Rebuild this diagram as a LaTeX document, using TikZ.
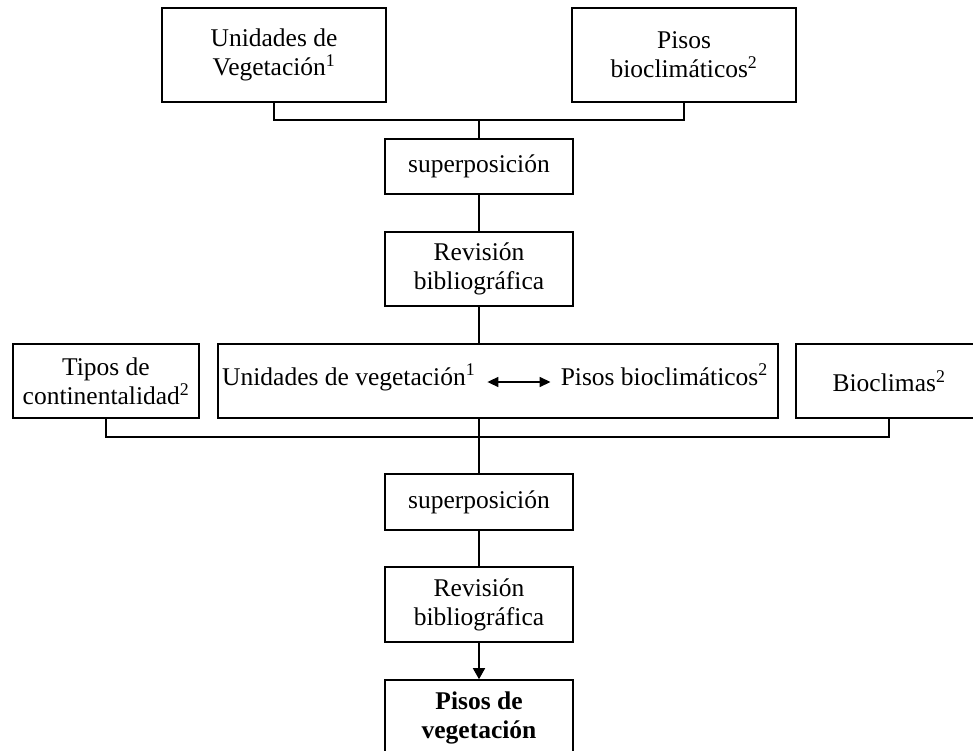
\documentclass[tikz,border=0pt]{standalone}
\usepackage{fontspec}
\setmainfont{Liberation Serif}
\usetikzlibrary{arrows.meta}
\begin{document}
\begin{tikzpicture}[x=1pt,y=-1pt,
  box/.style={draw, line width=1.6pt, inner sep=0pt, align=center,
    font=\fontsize{25.5}{29}\selectfont},
  txt/.style={inner sep=0pt, font=\fontsize{25.5}{29}\selectfont},
  lnk/.style={line width=1.5pt},
  arr/.style={line width=1.5pt, -{Triangle[length=11pt,width=12pt]}},
  dbl/.style={line width=1.5pt, {Triangle[length=11pt,width=10pt]}-{Triangle[length=11pt,width=10pt]}}]
\useasboundingbox (0,0) rectangle (973,751);
\clip (0,0) rectangle (973,751);
% top row
\node[box, minimum width=224pt, minimum height=94pt] (uv) at (274,55) {Unidades de\\Vegetación\textsuperscript{1}};
\node[box, minimum width=224pt, minimum height=94pt] (pb) at (684,55) {Pisos\\bioclimáticos\textsuperscript{2}};
\coordinate (bus1) at (479,120);
\node[box, minimum width=188pt, minimum height=55pt] (sup1) at (479,166.5) {superposición};
\node[box, minimum width=188pt, minimum height=74pt] (rev1) at (479,269) {Revisión\\bibliográfica};
% middle row
\node[box, minimum width=186pt, minimum height=74pt] (tipos) at (106,381) {Tipos de\\continentalidad\textsuperscript{2}};
\node[box, minimum width=560pt, minimum height=74pt] (mid) at (498,381) {};
\node[txt, anchor=base west] (uvtxt) at (222,385) {Unidades de vegetación\textsuperscript{1}};
\node[txt, anchor=base east] (pbtxt) at (768,385) {Pisos bioclimáticos\textsuperscript{2}};
\node[box, minimum width=186pt, minimum height=74pt] (bio) at (889,381) {Bioclimas\textsuperscript{2}};
\coordinate (bus2) at (479,437);
% bottom column
\node[box, minimum width=188pt, minimum height=56pt] (sup2) at (479,502) {superposición};
\node[box, minimum width=188pt, minimum height=75pt] (rev2) at (479,604.5) {Revisión\\bibliográfica};
\node[box, minimum width=188pt, minimum height=75pt, font=\fontsize{25.5}{29}\selectfont\bfseries] (pisos) at (479,717.5) {Pisos de\\vegetación};
% connectors
\draw[lnk] (uv.south) |- (bus1) -| (pb.south);
\draw[lnk] (bus1) -- (sup1.north);
\draw[lnk] (sup1.south) -- (rev1.north);
\draw[lnk] (rev1.south) -- (rev1.south |- mid.north);
\draw[dbl] ([xshift=12pt,yshift=3pt]uvtxt.base east) -- ([xshift=-10pt,yshift=3pt]pbtxt.base west);
\draw[lnk] (tipos.south) |- (bus2) -| (bio.south);
\draw[lnk] (bus2 |- mid.south) -- (sup2.north);
\draw[lnk] (sup2.south) -- (rev2.north);
\draw[arr] (rev2.south) -- (pisos.north);
\end{tikzpicture}
\end{document}
